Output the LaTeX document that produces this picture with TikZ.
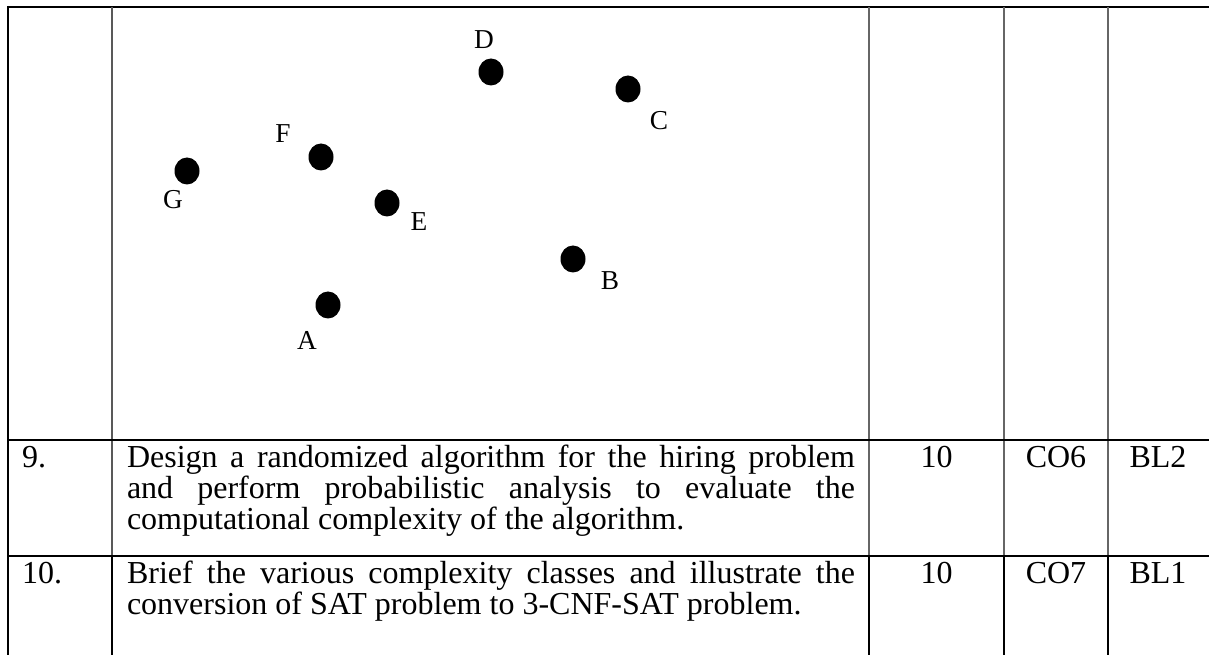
\documentclass[tikz,border=0pt]{standalone}
\usepackage{fontspec}
\setmainfont{Liberation Serif}
\usetikzlibrary{shapes.geometric}

\begin{document}
\begin{tikzpicture}[x=0.75pt,y=-0.75pt]
\tikzstyle{every node}=[inner sep=0pt, outer sep=0pt]
\tikzstyle{dot}=[ellipse, fill=black, minimum width=18.75pt, minimum height=20.25pt]
\tikzstyle{lbl}=[font=\fontsize{20.5}{24}\selectfont]
\tikzstyle{cell}=[font=\fontsize{24}{23.25}\selectfont]
\tikzstyle{para}=[cell, anchor=base west, text width=546pt, align=justify]
\useasboundingbox (0,0) rectangle (1209,655);
% table rules
\draw[line width=2.2pt] (8,7) -- (126,7);
\draw[line width=1.1pt] (126,7) -- (702,7);
\draw[line width=2.2pt] (702,7) -- (1209,7);
\draw[line width=1.6pt] (8,6) -- (8,655);
\draw[line width=1.5pt, black!65] (112,7) -- (112,556);
\foreach \x in {869,1004,1108}
  \draw[line width=0.9pt, black!60] (\x,7) -- (\x,556);
\foreach \x in {112,869,1004,1108}
  \draw[line width=1.5pt] (\x,556) -- (\x,655);
\draw[line width=1.5pt] (8,440) -- (1209,440);
\draw[line width=1.5pt] (8,556) -- (1209,556);
% points
\draw (491,72) node (d) [dot] {};
\draw (628,89) node (c) [dot] {};
\draw (321,157) node (f) [dot] {};
\draw (187,171) node (g) [dot] {};
\draw (387,203) node (e) [dot] {};
\draw (573,259) node (b) [dot] {};
\draw (328,305) node (a) [dot] {};
\node (dl) [lbl] at (484,40) {D};
\node (cl) [lbl] at (659,121) {C};
\node (fl) [lbl] at (283,134) {F};
\node (gl) [lbl] at (173,200) {G};
\node (el) [lbl] at (419,222) {E};
\node (bl) [lbl] at (610,281) {B};
\node (al) [lbl] at (307,340) {A};
% rows
\node (q9) [cell, anchor=base west] at (22,467) {9.};
\node (q9text) [para] at (127,467) {Design a randomized algorithm for the hiring problem\linebreak and perform probabilistic analysis to evaluate the\linebreak computational complexity of the algorithm.};
\node (q9marks) [cell, anchor=base] at (936.5,467) {10};
\node (q9co) [cell, anchor=base] at (1056,467) {CO6};
\node (q9bl) [cell, anchor=base] at (1158,467) {BL2};
\node (q10) [cell, anchor=base west] at (22,583) {10.};
\node (q10text) [para] at (127,583) {Brief the various complexity classes and illustrate the\linebreak conversion of SAT problem to 3-CNF-SAT problem.};
\node (q10marks) [cell, anchor=base] at (936.5,583) {10};
\node (q10co) [cell, anchor=base] at (1056,583) {CO7};
\node (q10bl) [cell, anchor=base] at (1158,583) {BL1};
\end{tikzpicture}
\end{document}
